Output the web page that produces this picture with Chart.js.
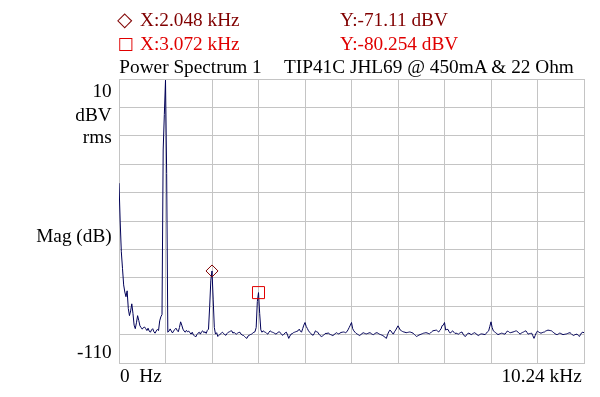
<!DOCTYPE html>
<html><head><meta charset="utf-8">
<script src="https://cdn.jsdelivr.net/npm/chart.js@4/dist/chart.umd.min.js"></script>
<style>
html,body{margin:0;padding:0;background:#fff;}
#wrap{position:relative;width:600px;height:397px;overflow:hidden;background:#fff;}
#c{position:absolute;left:0;top:0;}
.t{position:absolute;font-family:"Liberation Serif","Times New Roman",serif;font-size:19.3px;line-height:19.5px;white-space:pre;color:#000;}
.r{text-align:right;}
.sym{font-family:"DejaVu Sans",sans-serif;font-size:17px;}
.dia{font-family:"DejaVu Sans",sans-serif;font-size:20px;}
.m1{color:#800000;}
.m2{color:#e00000;}
</style></head><body>
<div id="wrap">
<canvas id="c" width="600" height="397"></canvas>
<div class="t m1 dia" style="left:117px;top:10px;">◇</div>
<div class="t m1" style="left:140px;top:10.3px;">X:2.048 kHz</div>
<div class="t m1" style="left:340px;top:10.3px;">Y:-71.11 dBV</div>
<div class="t m2 sym" style="left:117.5px;top:34px;">□</div>
<div class="t m2" style="left:140px;top:33.6px;">X:3.072 kHz</div>
<div class="t m2" style="left:340px;top:33.6px;">Y:-80.254 dBV</div>
<div class="t" style="left:119.3px;top:56.9px;">Power Spectrum 1</div>
<div class="t" style="left:284px;top:56.9px;">TIP41C JHL69 @ 450mA &amp; 22 Ohm</div>
<div class="t r" style="right:488.3px;top:80.6px;">10</div>
<div class="t r" style="right:488.3px;top:105.1px;">dBV</div>
<div class="t r" style="right:488.3px;top:127.1px;">rms</div>
<div class="t r" style="right:488.3px;top:225.6px;">Mag (dB)</div>
<div class="t r" style="right:488.3px;top:342.1px;">-110</div>
<div class="t" style="left:120px;top:365.6px;">0</div>
<div class="t" style="left:139.3px;top:365.6px;">Hz</div>
<div class="t r" style="right:18.3px;top:366.1px;">10.24 kHz</div>
</div>
<script>
// Frequency axis: 0 .. 10.24 kHz, 401 FFT bins (25.6 Hz each)
const spanKHz = 10.24;
const binKHz = 0.0256;
// Magnitudes (dBV rms), one per bin
const magDB = [
-34,-50,-63,-70,-77,-80,-82,-79.5,-87,-90,-88,-85,-89,-94,-95.5,-93,-90,-92,-94.3,-95,
-95.7,-95,-94.8,-95.5,-96.3,-95.3,-96.5,-97,-96,-95.5,-96.8,-97.4,-96.5,-95.8,-96.3,-92.2,-90.5,-89.5,-20,-5,
9.5,-30,-97,-96.5,-95.6,-96.5,-97.3,-96.5,-95.8,-95.3,-96.2,-96.8,-95,-92.6,-94,-95.7,-96.5,-97,-96.2,-96.8,
-96.5,-97.2,-97.8,-97,-98.2,-98.5,-99,-98,-97.4,-97,-97.8,-96.8,-96.4,-97.2,-96.8,-97.5,-96.2,-95.7,-86,-75,
-71.11,-83,-95,-97.8,-97.2,-98.8,-98.3,-97.8,-97.4,-97,-97.6,-98,-98.3,-97.5,-97,-96.8,-96.5,-96.4,-97.4,-97,
-97.6,-97.8,-97.4,-97.1,-97,-97.8,-98.2,-98.3,-98.8,-99.3,-99.6,-98.6,-98.3,-98,-97.8,-97.4,-97,-96.8,-95,-84,
-80.254,-89,-96,-97,-96.4,-96.8,-97,-97.5,-97.8,-97,-96.4,-96.8,-97,-97.2,-97.5,-97.8,-97.4,-97,-96.8,-97.4,
-98,-98.3,-97.8,-97.2,-97,-98.2,-99.6,-98.6,-97.8,-97.6,-97.2,-97,-96.8,-96.6,-96.4,-95.7,-96.5,-97,-95.5,-94,
-92.9,-94.5,-95.4,-96.4,-97,-97.6,-98,-98.3,-97.5,-96.4,-96.8,-97,-97.8,-98.4,-98.8,-98.6,-98.2,-97.8,-97.4,-97.6,
-97.2,-97.8,-98,-98.2,-98.4,-98,-97.6,-97.2,-97.5,-97.7,-97.4,-97.1,-97,-96.9,-97,-97.2,-96.8,-96,-95,-94,
-92.9,-95.5,-96.4,-97,-97.5,-97.8,-98.1,-98.4,-98,-97.6,-97.2,-97.4,-97.6,-97.7,-97.5,-97.3,-97.2,-97.6,-97.9,-98,
-97.6,-97.3,-97.2,-97.5,-97.8,-98,-98.2,-98.4,-98.8,-99.2,-99.6,-98,-96.9,-96.1,-96.5,-97.3,-97.8,-96.8,-96.1,-95.2,
-94.3,-95.2,-96.1,-96.4,-96.7,-96.9,-97,-97.2,-97.1,-97,-96.9,-97,-97.2,-97.4,-97.9,-98.4,-98.8,-98.5,-98.2,-98,
-97.8,-97.6,-97.4,-97.3,-97.2,-97.3,-97.5,-97.7,-97.3,-96.8,-96.4,-96.3,-96.2,-96.1,-96.5,-96.9,-96.2,-95.6,-94.2,-94,
-92.9,-96.1,-95.8,-95.8,-96.8,-97.4,-96.8,-96.4,-97,-97.5,-97.4,-97.6,-97.8,-97.4,-97.1,-96.9,-97.8,-98.5,-98.8,-98.1,
-97.5,-97.4,-97.7,-98,-97.7,-97.4,-97.2,-97.6,-98,-98.4,-98.1,-97.8,-97.7,-97.8,-97.9,-98,-97.4,-96.8,-96.4,-94.5,
-92.6,-95,-96.4,-96.8,-97.2,-97.6,-98,-97.8,-97.6,-97.4,-97.5,-97.7,-97.8,-97.2,-96.5,-96.7,-97.1,-97.2,-97,-96.9,
-96.7,-96.5,-96.4,-96.9,-97.4,-97.8,-97.4,-97.1,-96.9,-96.6,-96.4,-97.1,-97.8,-97.6,-97.5,-97.4,-98.5,-99.6,-98.4,-97.2,
-96.5,-96.9,-97.2,-97.4,-97.2,-97,-96.9,-96.5,-96.3,-96.1,-96.2,-96.3,-96.4,-96.8,-97.2,-97.6,-97.9,-98,-97.7,-97.4,
-97.5,-97.8,-98,-97.9,-97.8,-97.7,-97.5,-97.3,-97.2,-97.6,-98.1,-98.4,-98.1,-97.9,-97.8,-98.3,-98.8,-98,-97.2,-97,
-97.2
];
// Cursor markers
const markerDiamond = [{x: 2.048, y: -71.11}];
const markerSquare = [{x: 3.072, y: -80.254}];
// Grid divisions
const xGrid = [0, 1.024, 2.048, 3.072, 4.096, 5.12, 6.144, 7.168, 8.192, 9.216, 10.24];
const yGrid = [-110, -98, -86, -74, -62, -50, -38, -26, -14, -2, 10];

const spectrum = magDB.map((v, k) => ({x: k * binKHz, y: v}));
const gridColor = '#c4c4c4';

new Chart(document.getElementById('c'), {
  type: 'line',
  data: {
    datasets: [
      {data: markerDiamond, showLine: false, pointStyle: 'rectRot', pointRadius: 6, borderColor: '#800000', backgroundColor: 'rgba(0,0,0,0)', pointBorderWidth: 1},
      {data: markerSquare, showLine: false, pointStyle: 'rect', pointRadius: 8.5, borderColor: '#e00000', backgroundColor: 'rgba(0,0,0,0)', pointBorderWidth: 1},
      {data: spectrum, borderColor: '#000058', borderWidth: 1, pointRadius: 0, tension: 0, fill: false}
    ]
  },
  options: {
    responsive: false,
    animation: false,
    events: [],
    layout: {padding: {left: 119, top: 79, right: 16, bottom: 34}},
    plugins: {legend: {display: false}, tooltip: {enabled: false}},
    scales: {
      x: {
        type: 'linear', min: 0, max: spanKHz,
        afterBuildTicks: s => { s.ticks = xGrid.map(v => ({value: v})); },
        ticks: {display: false},
        grid: {color: gridColor, drawTicks: false, lineWidth: 1},
        border: {display: true, color: gridColor}
      },
      y: {
        type: 'linear', min: -110, max: 10,
        afterBuildTicks: s => { s.ticks = yGrid.map(v => ({value: v})); },
        ticks: {display: false},
        grid: {color: gridColor, drawTicks: false, lineWidth: 1},
        border: {display: true, color: gridColor}
      }
    }
  }
});
</script>
</body></html>
